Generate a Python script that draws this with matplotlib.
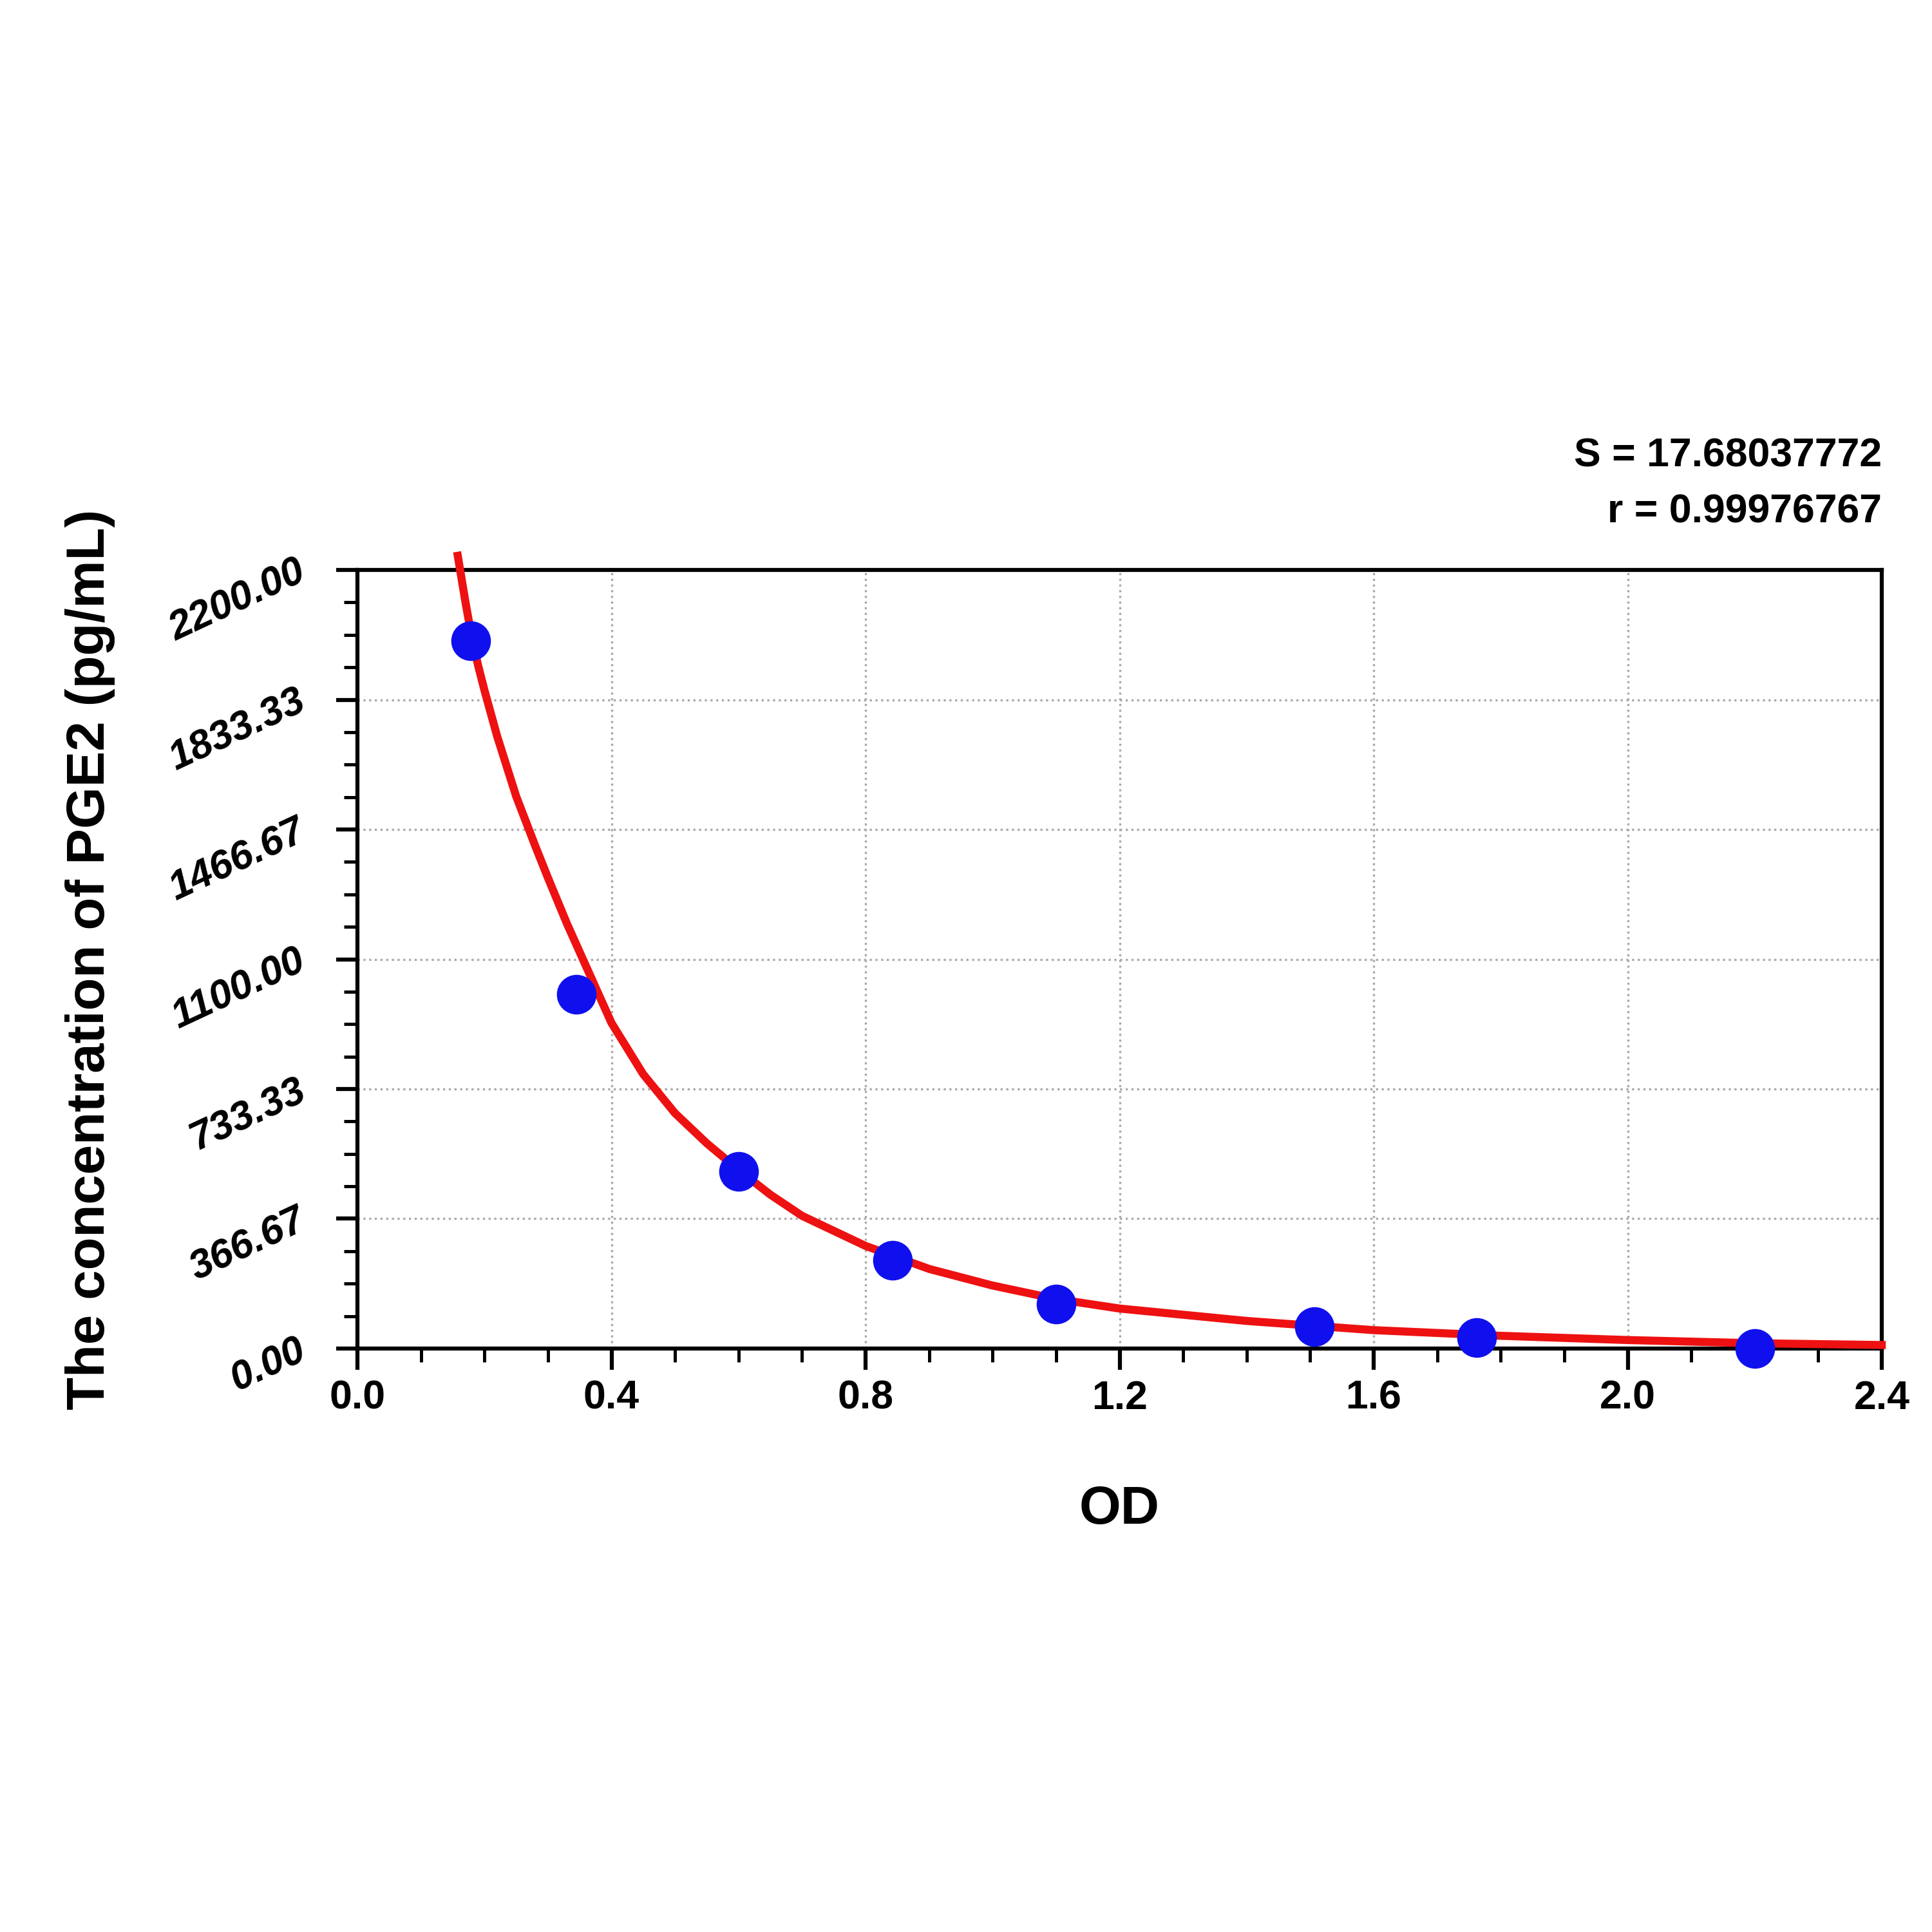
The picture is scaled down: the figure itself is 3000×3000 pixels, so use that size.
import numpy as np
import matplotlib.pyplot as plt
from matplotlib.ticker import MultipleLocator

plt.rcParams['font.family'] = ['Liberation Sans', 'DejaVu Sans']

OD = [0.178, 0.345, 0.600, 0.843, 1.100, 1.507, 1.762, 2.200]
CONC = [2000, 1000, 500, 250, 125, 62.5, 31.25, 0]

# fitted curve
FIT_X = [0.158, 0.17, 0.18, 0.19, 0.2, 0.22, 0.25, 0.28, 0.3, 0.33, 0.35, 0.38,
         0.4, 0.45, 0.5, 0.55, 0.6, 0.65, 0.7, 0.8, 0.9,
         1.0, 1.1, 1.2, 1.4, 1.6, 1.8, 2.0, 2.2, 2.4]
FIT_Y = [2240, 2110, 2010, 1930, 1860, 1730, 1560, 1420, 1330, 1200, 1120, 1000,
         920, 775, 665, 580, 505, 435, 375, 290, 225,
         178, 140, 113, 78, 52, 36, 24, 15, 10]

X_TICKS = [0.0, 0.4, 0.8, 1.2, 1.6, 2.0, 2.4]
Y_TICKS = [0.00, 366.67, 733.33, 1100.00, 1466.67, 1833.33, 2200.00]
STATS = ["S = 17.68037772", "r = 0.99976767"]


def main():
    fig = plt.figure(figsize=(10, 10), dpi=300)
    ax = fig.add_axes([0.185, 0.302, 0.789, 0.403])
    ax.plot(FIT_X, FIT_Y, color='#ee1111', lw=3, zorder=3, clip_on=False)
    ax.scatter(OD, CONC, s=190, color='#1010ee', zorder=4, clip_on=False)
    ax.set_xlim(0, 2.4)
    ax.set_ylim(0, 2200)
    ax.set_xticks(X_TICKS)
    ax.set_xticklabels([f"{v:.1f}" for v in X_TICKS], fontweight='bold', fontsize=15)
    ax.xaxis.set_minor_locator(MultipleLocator(0.1))
    ax.set_yticks(Y_TICKS)
    ax.set_yticklabels([f"{v:.2f}" for v in Y_TICKS], rotation=25,
                       rotation_mode='anchor', ha='right', va='center',
                       fontstyle='italic', fontweight='bold', fontsize=15)
    ax.yaxis.set_minor_locator(MultipleLocator(2200 / 24))
    ax.tick_params(which='major', length=8, width=1.5)
    ax.tick_params(which='minor', length=5, width=1.2)
    ax.tick_params(axis='y', pad=12)
    for s in ax.spines.values():
        s.set_linewidth(1.5)
    ax.grid(True, ls=':', color='#aaaaaa', lw=0.8)
    ax.set_xlabel("OD", fontsize=20, fontweight='bold', labelpad=25)
    ax.set_ylabel("The concentration of PGE2 (pg/mL)", fontsize=20,
                  fontweight='bold', labelpad=18)
    ax.text(1.0, 1.05, STATS[0] + "\n" + STATS[1], transform=ax.transAxes,
            ha='right', va='bottom', fontsize=15, fontweight='bold',
            linespacing=1.6)
    fig.savefig("out.png")


if __name__ == "__main__":
    main()
